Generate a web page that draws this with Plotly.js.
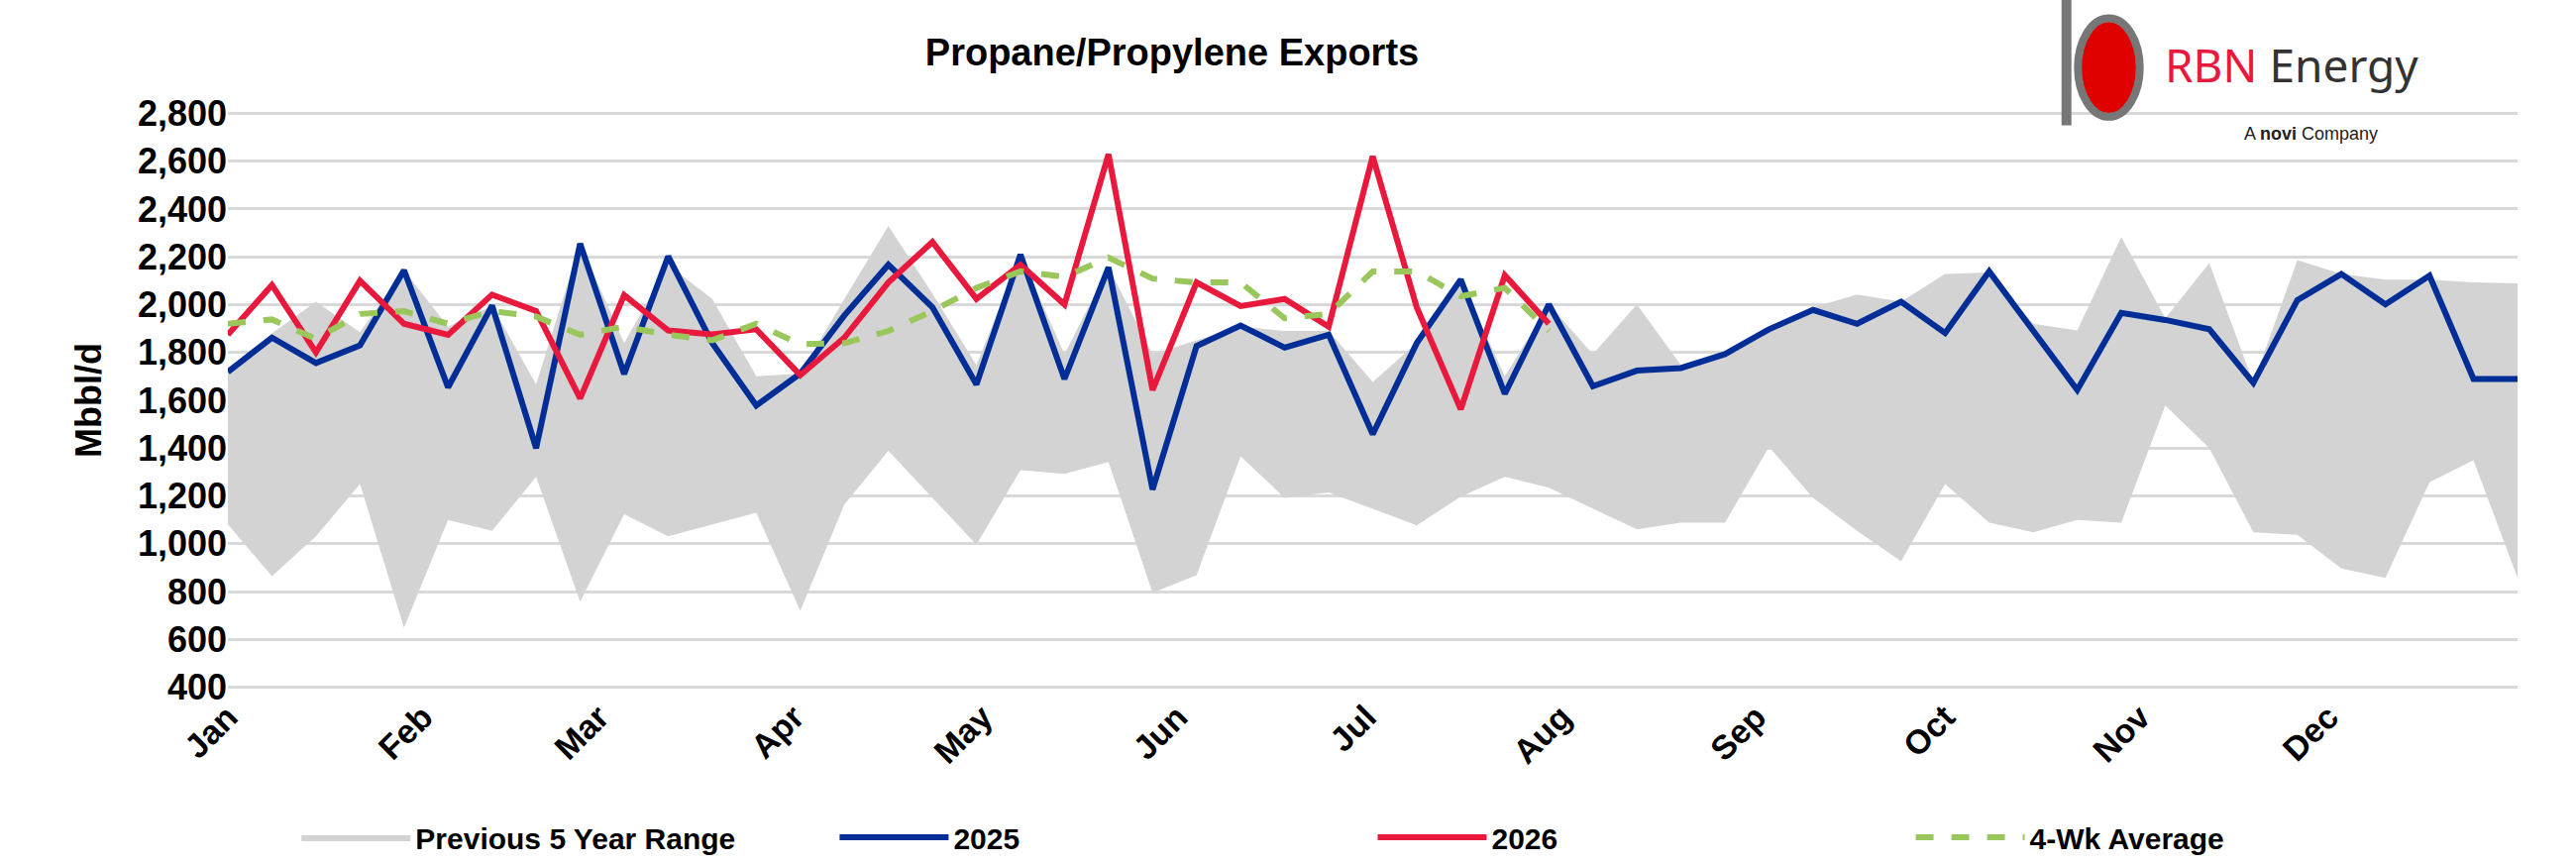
<!DOCTYPE html>
<html>
<head>
<meta charset="utf-8">
<script src="https://cdn.plot.ly/plotly-3.0.1.min.js"></script>
<style>body{margin:0;background:#fff}#chart{width:2600px;height:872px}</style>
</head>
<body>
<div id="chart"></div>
<script>
// weekly values, Mbbl/d, week index 0..52
var weeks = [];
for (var i = 0; i < 53; i++) weeks.push(i);

var month_labels = ['Jan','Feb','Mar','Apr','May','Jun','Jul','Aug','Sep','Oct','Nov','Dec'];
var month_pos = [0, 4.43, 8.43, 12.86, 17.14, 21.57, 25.86, 30.29, 34.71, 39, 43.43, 47.71];

var range_low = [1081,864,1031,1250,649,1100,1054,1280,758,1123,1031,1081,1130,719,1164,1389,1192,996,1308,1292,1342,795,869,1366,1192,1215,1146,1077,1197,1280,1234,1146,1060,1088,1088,1405,1192,1054,927,1250,1088,1048,1100,1088,1578,1400,1048,1037,897,857,1257,1349,857];
var range_high = [1720,1880,2012,1885,2144,1908,1996,1666,2255,1839,2167,2024,1700,1712,2024,2329,2047,1747,2209,1793,2156,1793,1851,1908,1890,1890,1677,1839,2105,1700,2001,1793,2001,1747,1793,1897,1989,2042,2012,2128,2135,1920,1892,2283,1943,2174,1673,2186,2128,2105,2105,2093,2089];
var y2025 = [1719,1862,1756,1830,2144,1654,1996,1400,2255,1710,2202,1839,1578,1712,1955,2167,1989,1666,2209,1689,2156,1227,1827,1913,1820,1874,1458,1839,2105,1627,2001,1659,1724,1735,1793,1897,1978,1920,2012,1881,2139,1890,1643,1966,1936,1897,1673,2019,2128,2001,2121,1689,1689];
var y2026 = [1874,2082,1800,2100,1920,1874,2042,1973,1608,2040,1892,1876,1897,1705,1862,2093,2262,2024,2167,2001,2629,1643,2093,1994,2024,1908,2620,1989,1562,2123,1920];
var avg4 = [1920,1938,1857,1961,1973,1920,1973,1950,1874,1908,1874,1851,1920,1834,1839,1890,1973,2070,2139,2116,2197,2109,2093,2093,1943,1961,2139,2139,2035,2070,1890];

var fam = 'Liberation Sans, Arial';

var data = [
  {x: weeks, y: range_low, mode: 'lines', line: {width: 0, color: '#d3d3d3'}, showlegend: false, hoverinfo: 'skip'},
  {x: weeks, y: range_high, mode: 'lines', fill: 'tonexty', fillcolor: '#d3d3d3', line: {width: 0, color: '#d3d3d3'}, name: 'Previous 5 Year Range'},
  {x: weeks, y: y2025, mode: 'lines', line: {color: '#002d96', width: 6}, name: '2025'},
  {x: weeks.slice(0, y2026.length), y: y2026, mode: 'lines', line: {color: '#e8193c', width: 6}, name: '2026'},
  {x: weeks.slice(0, avg4.length), y: avg4, mode: 'lines', line: {color: '#99c75b', width: 6, dash: 'dash'}, name: '4-Wk Average'}
];

var layout = {
  width: 2600, height: 872,
  margin: {l: 230, r: 59, t: 112, b: 176, autoexpand: false},
  paper_bgcolor: '#fff', plot_bgcolor: '#fff',
  title: {text: '<b>Propane/Propylene Exports</b>', x: 0.455, y: 0.955, font: {family: fam, size: 38, color: '#000'}},
  xaxis: {range: [0, 52], tickvals: month_pos, ticktext: month_labels, tickangle: -45,
          tickfont: {family: fam, size: 34, color: '#000', weight: 'bold'},
          showgrid: false, zeroline: false, ticks: '', fixedrange: true},
  yaxis: {range: [390, 2810], tickvals: [400,600,800,1000,1200,1400,1600,1800,2000,2200,2400,2600,2800],
          tickformat: ',d', tickfont: {family: fam, size: 36, color: '#000', weight: 'bold'},
          gridcolor: '#d9d9d9', gridwidth: 3, zeroline: false, ticks: '',
          title: {text: '<b>Mbbl/d</b>', font: {family: fam, size: 36, color: '#000'}, standoff: 25}},
  showlegend: true,
  legend: {orientation: 'h', traceorder: 'normal', x: 0.03, y: -0.255, xanchor: 'left', yanchor: 'middle',
           entrywidth: 0.235, entrywidthmode: 'fraction', itemwidth: 110,
           font: {family: fam, size: 30, color: '#000', weight: 'bold'}},
  annotations: [
    {xref: 'paper', yref: 'paper', x: 0.845, y: 1.08, xanchor: 'left', yanchor: 'middle', showarrow: false,
     text: '<span style="color:#e8193c">RBN</span> <span style="color:#333">Energy</span>',
     font: {family: 'Noto Sans', size: 46}},
    {xref: 'paper', yref: 'paper', x: 0.94, y: 0.96, xanchor: 'right', yanchor: 'middle', showarrow: false,
     text: 'A <b>novi</b> Company', font: {family: fam, size: 18, color: '#222'}}
  ],
  shapes: [
    {type: 'circle', xref: 'paper', yref: 'paper', x0: 0.808, x1: 0.835, y0: 0.99, y1: 1.16, fillcolor: '#e00000', line: {color: '#777', width: 8}},
    {type: 'line', xref: 'paper', yref: 'paper', x0: 0.803, x1: 0.803, y0: 0.975, y1: 1.2, line: {color: '#777', width: 10}}
  ]
};

Plotly.newPlot('chart', data, layout, {displayModeBar: false});
</script>
</body>
</html>
